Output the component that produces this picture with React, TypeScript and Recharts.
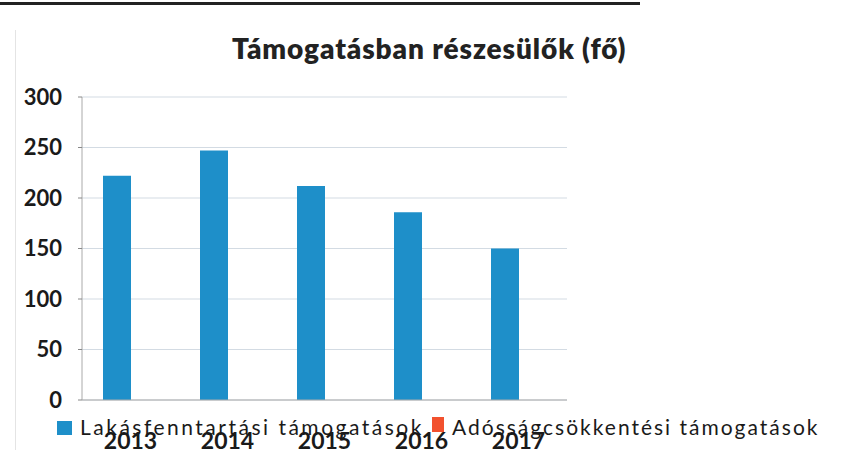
import { BarChart, Bar, XAxis, YAxis, CartesianGrid } from "recharts";

const BLUE = "#1E8FC9";
const RED = "#F2512E";

const years = ["2013", "2014", "2015", "2016", "2017"];
const lakasfenntartasi = [222, 247, 212, 186, 150];
const adossagcsokkentesi = [0, 0, 0, 0, 0];
const yTicks = [0, 50, 100, 150, 200, 250, 300];
const seriesNames = ["Lakásfenntartási támogatások", "Adósságcsökkentési támogatások"];

const data = years.map((year, i) => ({
  year,
  lakas: lakasfenntartasi[i],
  adossag: adossagcsokkentesi[i],
}));

const FONT = "Lato, 'Open Sans', sans-serif";

export default function App() {
  return (
    <div style={{ position: "relative", width: 849, height: 452, background: "#fff", fontFamily: FONT }}>
      <style>{"body{margin:0}"}</style>
      <div style={{ position: "absolute", left: 0, top: 2, width: 640, height: 3, background: "#222" }} />
      <div style={{ position: "absolute", left: 15, top: 30, width: 1, height: 420, background: "#e4e4e4" }} />
      <div
        style={{
          position: "absolute",
          left: 232,
          top: 31,
          whiteSpace: "nowrap",
          fontSize: 28,
          fontWeight: 800,
          letterSpacing: 0.9,
          color: "#222",
        }}
      >
        Támogatásban részesülők (fő)
      </div>
      <BarChart
        width={849}
        height={452}
        data={data}
        margin={{ top: 97, right: 282, left: 0, bottom: 0 }}
        barGap={0}
        barSize={28}
      >
        <CartesianGrid vertical={false} stroke="#d3dbe3" />
        <XAxis
          dataKey="year"
          height={52}
          axisLine={{ stroke: "#aaa" }}
          tickLine={false}
          tickMargin={27}
          tick={{ fontSize: 23, fontWeight: 700, fill: "#1a1a1a", fontFamily: FONT }}
        />
        <YAxis
          width={82}
          domain={[0, 300]}
          ticks={yTicks}
          axisLine={{ stroke: "#aaa" }}
          tickLine={{ stroke: "#888" }}
          tickSize={4}
          tickMargin={16}
          tick={{ fontSize: 22, fontWeight: 700, fill: "#1a1a1a", fontFamily: FONT }}
        />
        <Bar dataKey="lakas" fill={BLUE} isAnimationActive={false} />
        <Bar dataKey="adossag" fill={RED} isAnimationActive={false} />
      </BarChart>
      <div style={{ position: "absolute", left: 57, top: 421, width: 15, height: 14, background: BLUE }} />
      <div
        style={{
          position: "absolute",
          left: 80,
          top: 414,
          fontSize: 21,
          letterSpacing: 2.5,
          color: "#1a1a1a",
          whiteSpace: "nowrap",
        }}
      >
        {seriesNames[0]}
      </div>
      <div style={{ position: "absolute", left: 432, top: 417, width: 12, height: 15, background: RED }} />
      <div
        style={{
          position: "absolute",
          left: 452,
          top: 414,
          fontSize: 21,
          letterSpacing: 2.0,
          color: "#1a1a1a",
          whiteSpace: "nowrap",
        }}
      >
        {seriesNames[1]}
      </div>
    </div>
  );
}
